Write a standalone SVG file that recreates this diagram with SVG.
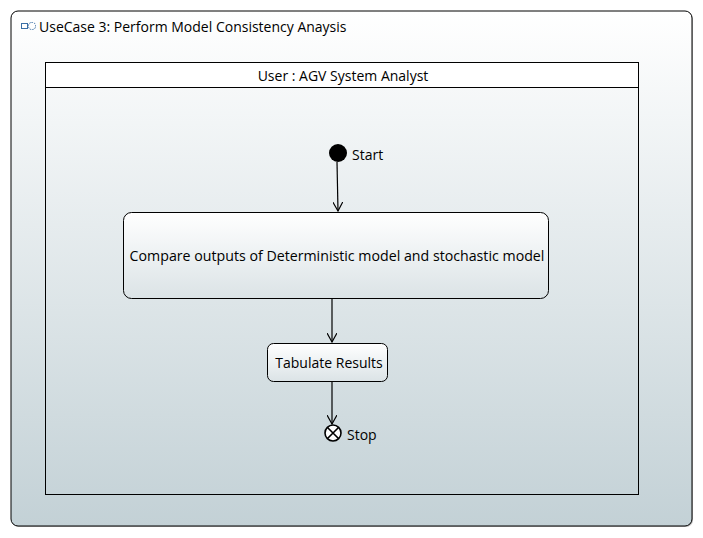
<svg xmlns="http://www.w3.org/2000/svg" width="703" height="538" viewBox="0 0 703 538">
<defs>
<linearGradient id="bg" x1="0" y1="0" x2="0" y2="1">
<stop offset="0" stop-color="#ffffff"/>
<stop offset="1" stop-color="#c3d1d6"/>
</linearGradient>
<linearGradient id="act" x1="0" y1="0" x2="0" y2="1">
<stop offset="0" stop-color="#ffffff"/>
<stop offset="1" stop-color="#dbe3e6"/>
</linearGradient>
<marker id="arr" viewBox="0 0 10 10" refX="9" refY="5" markerWidth="10" markerHeight="10" markerUnits="userSpaceOnUse" orient="auto">
<path d="M0,0 L9,5 L0,10" fill="none" stroke="#000" stroke-width="1.2"/>
</marker>
</defs>
<style>
text{font-family:"Open Sans","Noto Sans","Liberation Sans",sans-serif;fill:#000}
.lbl{font-size:14px}
.box{stroke:#000;stroke-width:1}
.conn{stroke:#000;stroke-width:1.2;fill:none}
</style>
<rect width="703" height="538" fill="#ffffff"/>
<g id="frame">
<rect x="12" y="12" width="681" height="515" rx="7" fill="#808080" opacity="0.5"/>
<rect x="11" y="11" width="681" height="515" rx="7" fill="url(#bg)" stroke="#000" stroke-width="1"/>
<g fill="none" stroke="#3a6ea5" stroke-width="1">
<rect x="21.5" y="23.5" width="6" height="5"/>
<rect x="28.5" y="22.5" width="7" height="7" rx="3" stroke-dasharray="1.5,1"/>
</g>
<text x="39" y="32" font-size="14">UseCase 3: Perform Model Consistency Anaysis</text>
</g>
<g id="partition">
<rect x="45.5" y="62.5" width="593" height="432" fill="none" class="box"/>
<rect x="45.5" y="62.5" width="593" height="25" fill="#ffffff" class="box"/>
<text x="343" y="81" font-size="14" text-anchor="middle">User : AGV System Analyst</text>
</g>
<g id="start">
<circle cx="338" cy="153" r="9" fill="#000"/>
<text x="352" y="160" class="lbl">Start</text>
</g>
<g id="compare">
<rect x="123.5" y="212.5" width="425" height="86" rx="8" fill="url(#act)" class="box"/>
<text x="337" y="261" font-size="14.2" text-anchor="middle">Compare outputs of Deterministic model and stochastic model</text>
</g>
<g id="tabulate">
<rect x="267.5" y="343.5" width="120" height="38" rx="6" fill="url(#act)" class="box"/>
<text x="329" y="368" class="lbl" text-anchor="middle">Tabulate Results</text>
</g>
<g id="stop">
<circle cx="333" cy="433" r="8" fill="#fff" stroke="#000" stroke-width="1.6"/>
<path d="M327.5,427.5 L338.5,438.5 M338.5,427.5 L327.5,438.5" stroke="#000" stroke-width="1.6"/>
<text x="347" y="440" class="lbl">Stop</text>
</g>
<g id="connectors">
<path class="conn" d="M337,162 L338,211" marker-end="url(#arr)"/>
<path class="conn" d="M332,299 L332,342" marker-end="url(#arr)"/>
<path class="conn" d="M332,382 L332,424" marker-end="url(#arr)"/>
</g>
</svg>
